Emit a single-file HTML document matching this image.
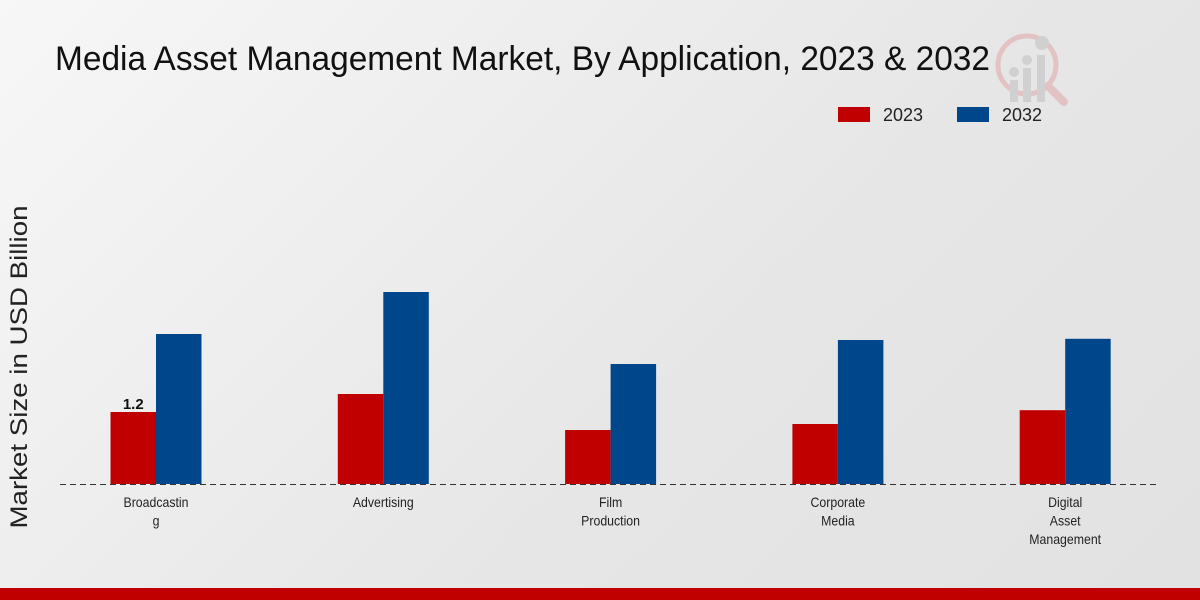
<!DOCTYPE html>
<html><head><meta charset="utf-8"><style>
html,body{margin:0;padding:0}
body{width:1200px;height:600px;overflow:hidden;background:linear-gradient(135deg,#f7f7f7 0%,#e6e6e6 60%,#e2e2e2 100%);font-family:"Liberation Sans",sans-serif;position:relative}
svg{position:absolute;left:0;top:0}
</style></head><body>
<svg width="1200" height="600">
<text x="55" y="70" font-size="34" fill="#111" font-family="Liberation Sans Narrow,Liberation Sans,sans-serif" textLength="935" lengthAdjust="spacingAndGlyphs">Media Asset Management Market, By Application, 2023 &amp; 2032</text>
<g opacity="0.5">
<circle cx="1027" cy="65" r="29" fill="none" stroke="#e0a0a0" stroke-width="5"/>
<line x1="1048" y1="86" x2="1064" y2="102" stroke="#e0a0a0" stroke-width="8" stroke-linecap="round"/>
<rect x="1010" y="80" width="8" height="22" fill="#bbb"/><rect x="1023" y="68" width="8" height="34" fill="#bbb"/><rect x="1037" y="55" width="8" height="47" fill="#bbb"/>
<circle cx="1014" cy="72" r="5" fill="#bbb"/><circle cx="1027" cy="60" r="5" fill="#bbb"/><circle cx="1042" cy="43" r="7" fill="#bbb"/>
</g>
<g>
<rect x="838" y="107" width="32" height="15" fill="#c00000"/>
<text x="883" y="121" font-size="18" fill="#222" textLength="40" lengthAdjust="spacingAndGlyphs">2023</text>
<rect x="957" y="107" width="32" height="15" fill="#00468b"/>
<text x="1002" y="121" font-size="18" fill="#222" textLength="40" lengthAdjust="spacingAndGlyphs">2032</text>
</g>
<text transform="translate(27,367) rotate(-90)" text-anchor="middle" font-size="24" fill="#222" textLength="323" lengthAdjust="spacingAndGlyphs">Market Size in USD Billion</text>
<g id="bars"></g>
<line x1="60" y1="484.5" x2="1160" y2="484.5" stroke="#333" stroke-dasharray="6,4"/>
<g id="labels"></g>
<rect x="0" y="588" width="1200" height="12" fill="#c00000"/>
</svg>
<script>
const categories=[["Broadcastin","g"],["Advertising"],["Film","Production"],["Corporate","Media"],["Digital","Asset","Management"]];
const values2023=[1.2,1.5,0.9,1.0,1.23];
const values2032=[2.5,3.2,2.0,2.4,2.42];
const NS="http://www.w3.org/2000/svg";
const base=484,scale=60,barW=45.5;
const xc=i=>156+i*227.3;
const y=v=>base-v*scale;
const bars=document.getElementById('bars'),labels=document.getElementById('labels');
function mk(t,a){const e=document.createElementNS(NS,t);for(const k in a)e.setAttribute(k,a[k]);return e;}
categories.forEach((c,i)=>{
 const r=mk('rect',{x:xc(i)-barW,y:y(values2023[i]),width:barW,height:values2023[i]*scale,fill:'#c00000'});
 
 
 bars.appendChild(r);
 const b=mk('rect',{x:xc(i),y:y(values2032[i]),width:barW,height:values2032[i]*scale,fill:'#00468b'});
 
 
 bars.appendChild(b);
 c.forEach((line,j)=>{
  const t=mk('text',{x:xc(i),y:507+j*18.5,'text-anchor':'middle','font-size':'14',fill:'#222',transform:'translate('+xc(i)+',0) scale(0.88,1) translate('+(-xc(i))+',0)'});
  t.textContent=line;
  
  
  labels.appendChild(t);
 });
});
const vl=mk('text',{x:xc(0)-barW/2,y:y(values2023[0])-3,'text-anchor':'middle','font-size':'15','font-weight':'bold',fill:'#111'});
vl.textContent=values2023[0];


labels.appendChild(vl);
</script>
</body></html>
